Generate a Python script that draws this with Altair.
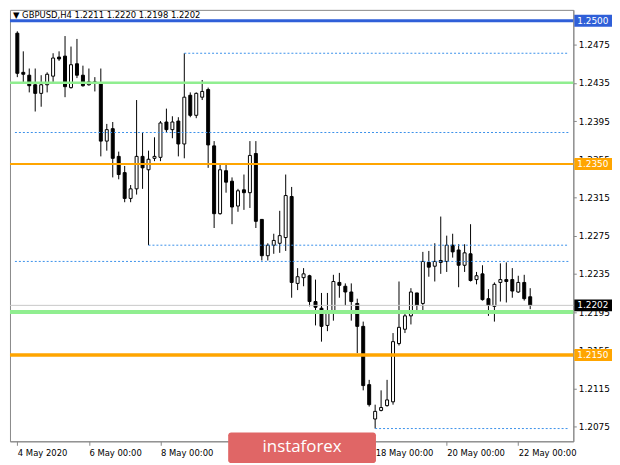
import altair as alt
import pandas as pd

# ---- candle data (GBPUSD H4, 4 May 2020 00:00 .. 22 May 2020 08:00) ----
opens = [1.2487, 1.2446, 1.2443, 1.2433, 1.2424, 1.2433, 1.2442, 1.2462, 1.2463, 1.2430,
         1.2455, 1.2443, 1.2433, 1.2436, 1.2435, 1.2374, 1.2387, 1.2358, 1.2341, 1.2314,
         1.2324, 1.2358, 1.2344, 1.2356, 1.2357, 1.2394, 1.2386, 1.2395, 1.2371, 1.2422,
         1.2401, 1.2420, 1.2428, 1.2369, 1.2298, 1.2343, 1.2332, 1.2306, 1.2323, 1.2320,
         1.2361, 1.2292, 1.2254, 1.2265, 1.2267, 1.2273, 1.2316, 1.2225, 1.2231, 1.2233,
         1.2206, 1.2199, 1.2181, 1.2195, 1.2226, 1.2222, 1.2216, 1.2204, 1.2180, 1.2119,
         1.2083, 1.2092, 1.2097, 1.2101, 1.2162, 1.2177, 1.2191, 1.2215, 1.2204, 1.2247,
         1.2243, 1.2249, 1.2248, 1.2265, 1.2260, 1.2244, 1.2256, 1.2229, 1.2235, 1.2209,
         1.2201, 1.2226, 1.2229, 1.2229, 1.2216, 1.2226, 1.2211]
highs = [1.2489, 1.2468, 1.2450, 1.2450, 1.2443, 1.2446, 1.2466, 1.2468, 1.2484, 1.2473,
         1.2481, 1.2453, 1.2450, 1.2441, 1.2450, 1.2392, 1.2394, 1.2363, 1.2348, 1.2328,
         1.2417, 1.2383, 1.2364, 1.2378, 1.2395, 1.2408, 1.2400, 1.2399, 1.2466, 1.2425,
         1.2425, 1.2438, 1.2430, 1.2374, 1.2349, 1.2349, 1.2336, 1.2324, 1.2339, 1.2374,
         1.2374, 1.2292, 1.2267, 1.2277, 1.2301, 1.2339, 1.2326, 1.2241, 1.2241, 1.2234,
         1.2229, 1.2215, 1.2215, 1.2234, 1.2236, 1.2225, 1.2225, 1.2209, 1.2185, 1.2124,
         1.2098, 1.2113, 1.2124, 1.2173, 1.2227, 1.2196, 1.2220, 1.2215, 1.2258, 1.2259,
         1.2267, 1.2295, 1.2275, 1.2277, 1.2266, 1.2266, 1.2287, 1.2237, 1.2244, 1.2219,
         1.2226, 1.2246, 1.2247, 1.2241, 1.2233, 1.2234, 1.2220]
lows = [1.2441, 1.2435, 1.2425, 1.2405, 1.2410, 1.2425, 1.2436, 1.2458, 1.2420, 1.2429,
        1.2440, 1.2431, 1.2432, 1.2426, 1.2358, 1.2364, 1.2336, 1.2334, 1.2310, 1.2310,
        1.2318, 1.2324, 1.2265, 1.2353, 1.2353, 1.2383, 1.2377, 1.2358, 1.2356, 1.2399,
        1.2398, 1.2417, 1.2346, 1.2283, 1.2297, 1.2320, 1.2287, 1.2300, 1.2302, 1.2304,
        1.2283, 1.2249, 1.2249, 1.2256, 1.2257, 1.2259, 1.2210, 1.2218, 1.2222, 1.2201,
        1.2181, 1.2164, 1.2175, 1.2186, 1.2210, 1.2202, 1.2186, 1.2152, 1.2113, 1.2096,
        1.2073, 1.2091, 1.2096, 1.2098, 1.2160, 1.2173, 1.2182, 1.2195, 1.2193, 1.2232,
        1.2227, 1.2235, 1.2237, 1.2252, 1.2221, 1.2237, 1.2227, 1.2224, 1.2207, 1.2191,
        1.2185, 1.2206, 1.2205, 1.2210, 1.2215, 1.2207, 1.2198]
closes = [1.2445, 1.2444, 1.2432, 1.2424, 1.2433, 1.2444, 1.2461, 1.2460, 1.2431, 1.2454,
          1.2443, 1.2432, 1.2436, 1.2435, 1.2374, 1.2386, 1.2356, 1.2339, 1.2314, 1.2324,
          1.2358, 1.2346, 1.2355, 1.2358, 1.2393, 1.2386, 1.2394, 1.2371, 1.2420, 1.2401,
          1.2424, 1.2426, 1.2370, 1.2298, 1.2344, 1.2331, 1.2305, 1.2322, 1.2320, 1.2359,
          1.2290, 1.2254, 1.2265, 1.2270, 1.2275, 1.2317, 1.2226, 1.2232, 1.2235, 1.2206,
          1.2200, 1.2180, 1.2195, 1.2227, 1.2223, 1.2216, 1.2206, 1.2180, 1.2118, 1.2098,
          1.2091, 1.2095, 1.2103, 1.2164, 1.2179, 1.2191, 1.2216, 1.2202, 1.2248, 1.2242,
          1.2248, 1.2247, 1.2265, 1.2258, 1.2244, 1.2257, 1.2228, 1.2233, 1.2208, 1.2202,
          1.2224, 1.2229, 1.2227, 1.2217, 1.2226, 1.2209, 1.2202]

# ---- axis texts ----
tick_bars = [0, 12, 24, 36, 48, 60, 72, 84]
tick_labels = ["4 May 2020", "6 May 00:00", "8 May 00:00", "12 May 00:00",
               "14 May 00:00", "18 May 00:00", "20 May 00:00", "22 May 00:00"]
price_ticks = [1.2075, 1.2115, 1.2155, 1.2195, 1.2235, 1.2275, 1.2315,
               1.2355, 1.2395, 1.2435, 1.2475]

# ---- horizontal levels ----
solid_levels = [1.2500, 1.2435, 1.2350, 1.2195, 1.2150, 1.2202]
solid_colors = ["#2f5fd8", "#90ee90", "#ffa500", "#90ee90", "#ffa500", "#c8c8c8"]
solid_widths = [3, 2.5, 2, 4, 3.5, 1]

dashed_levels = [1.2466, 1.2383, 1.2265, 1.2248, 1.2073]
dashed_from_bar = [28, -0.4, 22, -0.4, 60]

tag_prices = [1.2500, 1.2350, 1.2202, 1.2150]
tag_colors = ["#2f5fd8", "#ffa500", "#000000", "#ffa500"]

W, H = 568, 435
X_DOM = [-0.4, 92.4]
Y_DOM = [1.205965, 1.251142]
FONT = "DejaVu Sans"

df = pd.DataFrame({"bar": list(range(len(opens))), "open": opens, "high": highs,
                   "low": lows, "close": closes})
df["lo"] = df[["open", "close"]].min(axis=1)
df["hi"] = df[["open", "close"]].max(axis=1)

xs = alt.Scale(domain=X_DOM, nice=False, zero=False)
ys = alt.Scale(domain=Y_DOM, nice=False, zero=False)

label_expr = "[" + ",".join("'%s'" % t for t in tick_labels) + "][round(datum.value/12)]"
x_axis = alt.Axis(values=tick_bars, labelExpr=label_expr, labelAlign="left",
                  labelPadding=3, tickSize=4, domainColor="#888888", tickColor="#888888",
                  labelColor="#000000", labelFont=FONT, labelFontSize=8.5, grid=False,
                  title=None, labelFlush=False, labelOverlap=False)
y_axis = alt.Axis(orient="right", values=price_ticks, format=".4f", tickSize=3,
                  labelPadding=2, labelFont=FONT, labelFontSize=9, labelColor="#000000",
                  domainColor="#888888", tickColor="#888888", grid=False, title=None,
                  labelOverlap=False, labelFlush=False)


def X(field):
    return alt.X(field, scale=xs, axis=x_axis)


def Y(field):
    return alt.Y(field, scale=ys, axis=y_axis)


wicks = alt.Chart(df).mark_rule(color="#000000", strokeWidth=1).encode(
    x=X("bar:Q"), y=Y("low:Q"), y2="high:Q",
)
bodies = alt.Chart(df).mark_bar(size=3, stroke="#000000", strokeWidth=1).encode(
    x=X("bar:Q"), y=Y("lo:Q"), y2="hi:Q",
    fill=alt.condition("datum.close >= datum.open", alt.value("#ffffff"), alt.value("#000000")),
)

lv = pd.DataFrame({"p": solid_levels, "c": solid_colors, "w": solid_widths})
levels = alt.Chart(lv).mark_rule().encode(
    y=Y("p:Q"),
    color=alt.Color("c:N", scale=None),
    strokeWidth=alt.StrokeWidth("w:Q", scale=None),
)

dv = pd.DataFrame({"p": dashed_levels, "x0": dashed_from_bar, "x1": [X_DOM[1]] * len(dashed_levels)})
dashed = alt.Chart(dv).mark_rule(color="#3a90ea", strokeWidth=1, strokeDash=[2, 2]).encode(
    x=X("x0:Q"), x2="x1:Q", y=Y("p:Q"),
)

tv = pd.DataFrame({"p": tag_prices, "c": tag_colors, "t": ["%.4f" % v for v in tag_prices]})
tag_box = alt.Chart(tv).mark_rect(yOffset=-6, y2Offset=6).encode(
    x=alt.value(W + 1), x2=alt.value(W + 39),
    y=Y("p:Q"), y2="p:Q",
    color=alt.Color("c:N", scale=None),
)
tag_text = alt.Chart(tv).mark_text(align="left", baseline="middle", font=FONT,
                                   fontSize=9, color="#ffffff").encode(
    x=alt.value(W + 4), y=Y("p:Q"), text="t:N",
)

title_str = "\u25BC  GBPUSD,H4  %.4f %.4f %.4f %.4f" % (opens[-1], highs[-1], lows[-1], closes[-1])
title = alt.Chart(pd.DataFrame({"t": [title_str]})).mark_text(
    align="left", baseline="top", font=FONT, fontSize=8.5, color="#000000").encode(
    x=alt.value(3), y=alt.value(1), text="t:N")

wm_box = alt.Chart(pd.DataFrame({"t": ["instaforex"]})).mark_rect(
    color="#e06666", cornerRadius=3).encode(
    x=alt.value(220), x2=alt.value(369), y=alt.value(426), y2=alt.value(457))
wm_text = alt.Chart(pd.DataFrame({"t": ["instaforex"]})).mark_text(
    align="center", baseline="middle", font="Open Sans", fontSize=17,
    color="#ffffff").encode(x=alt.value(294.5), y=alt.value(441), text="t:N")

chart = alt.layer(wicks, bodies, levels, dashed, tag_box, tag_text, title, wm_box, wm_text
                  ).properties(width=W, height=H, padding=0, background="#ffffff"
                  ).configure_view(stroke="#888888", strokeWidth=1)

chart.save("out.html", embed_options={"renderer": "svg", "actions": False})
